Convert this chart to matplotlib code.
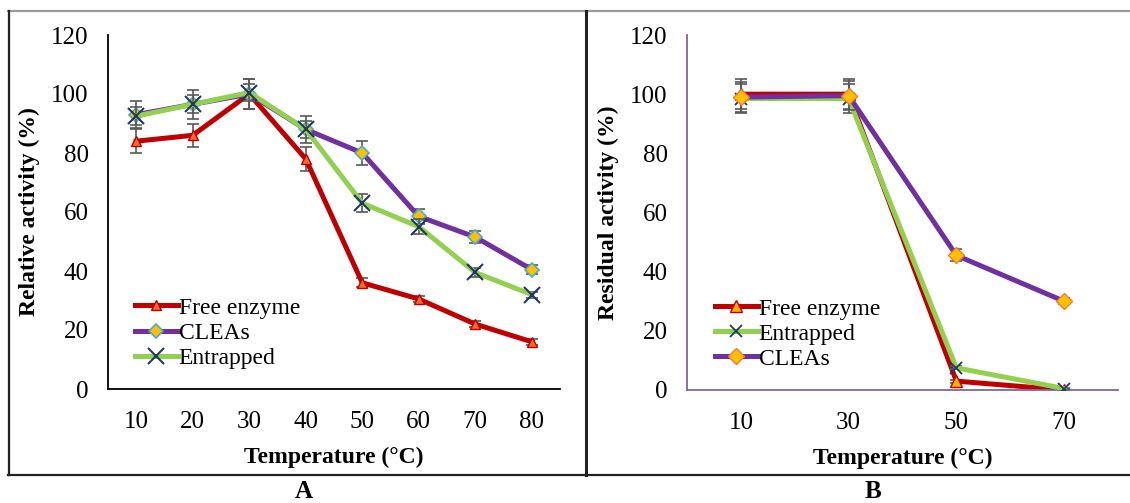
import numpy as np
import matplotlib
matplotlib.use("Agg")
import matplotlib.pyplot as plt
from matplotlib.lines import Line2D

plt.rcParams['font.family'] = ['Liberation Serif', 'DejaVu Serif']

# ---- panel A data ----
temps_a = ['10', '20', '30', '40', '50', '60', '70', '80']
free_a = [84, 86, 100, 78, 36, 30.5, 22, 16]
free_a_err = [4, 4, 5, 4, 1.5, 1, 1, 1]
cleas_a = [93, 96.5, 100, 88, 80, 58.5, 51.5, 40.5]
cleas_a_err = [4.5, 5, 5, 4.5, 4, 2.5, 2, 1.5]
entr_a = [92.5, 96.5, 100.5, 88, 63, 55, 39.5, 32]
entr_a_err = [3, 3, 3, 3, 3, 2.5, 1.5, 1]

# ---- panel B data ----
temps_b = ['10', '30', '50', '70']
free_b = [100, 100, 3, 0]
free_b_err = [5, 5, 0.5, 0.3]
entr_b = [98.5, 98.5, 7.5, 0.5]
entr_b_err = [5, 5, 0.5, 0.3]
cleas_b = [99, 99.5, 45.5, 30]
cleas_b_err = [5, 5, 2, 1]

RED = '#C00000'
PURPLE = '#7030A0'
GREEN = '#92D050'
NAVY = '#1F3864'
ERR = '#595959'

W, H = 1130, 503
fig = plt.figure(figsize=(W / 100, H / 100), dpi=100)


def px_axes(x0, x1, ytop, ybot):
    return fig.add_axes([x0 / W, (H - ybot) / H, (x1 - x0) / W, (ybot - ytop) / H])


def series(ax, x, y, err, color, marker, mfc, mec, ms, mew, z, label):
    ax.errorbar(x, y, yerr=err, fmt='none', ecolor=ERR, elinewidth=1.2,
                capsize=4, capthick=1.2, zorder=z)
    ax.plot(x, y, color=color, lw=3.6, marker=marker, markersize=ms,
            markerfacecolor=mfc, markeredgecolor=mec, markeredgewidth=mew,
            zorder=z + 0.5, label=label)


def style(ax, n, labels, spine_color, ylabel):
    ax.set_xlim(-0.5, n - 0.5)
    ax.set_ylim(0, 120)
    ax.set_xticks(np.arange(n))
    ax.set_xticklabels(labels)
    ax.set_yticks(np.arange(0, 121, 20))
    ax.tick_params(length=0, labelsize=18)
    ax.tick_params(axis='y', pad=14)
    ax.tick_params(axis='x', pad=16)
    for s in ('top', 'right'):
        ax.spines[s].set_visible(False)
    for s in ('left', 'bottom'):
        ax.spines[s].set_color(spine_color)
        ax.spines[s].set_linewidth(1.3)
    ax.set_ylabel(ylabel, fontsize=17, fontweight='bold', labelpad=8)
    ax.set_xlabel('Temperature (°C)', fontsize=17, fontweight='bold', labelpad=10)


def legend(ax, xa):
    ax.legend(loc='center left', bbox_to_anchor=(xa, 0.158), frameon=False,
              fontsize=17, borderaxespad=0, borderpad=0, handlelength=1.8,
              handletextpad=0.05, labelspacing=0.15)


# panel A
axA = px_axes(108, 560, 35, 389)
xa = np.arange(len(temps_a))
series(axA, xa, free_a, free_a_err, RED, '^', '#F26B2A', RED, 7, 1, 2, 'Free enzyme')
series(axA, xa, cleas_a, cleas_a_err, PURPLE, 'D', '#FFC000', '#4BACC6', 7, 1.2, 3, 'CLEAs')
series(axA, xa, entr_a, entr_a_err, GREEN, 'x', NAVY, NAVY, 11, 1.5, 4, 'Entrapped')
style(axA, len(temps_a), temps_a, 'black', 'Relative activity (%)')
legend(axA, 0.06)

# panel B
axB = px_axes(687, 1118, 35, 390)
xb = np.arange(len(temps_b))
series(axB, xb, free_b, free_b_err, RED, '^', '#FFB000', RED, 9, 1, 2, 'Free enzyme')
series(axB, xb, entr_b, entr_b_err, GREEN, 'x', NAVY, NAVY, 9, 1.3, 3, 'Entrapped')
series(axB, xb, cleas_b, cleas_b_err, PURPLE, 'D', '#FFC000', '#ED7D31', 8, 1, 4, 'CLEAs')
style(axB, len(temps_b), temps_b, '#8064A2', 'Residual activity (%)')
legend(axB, 0.065)


# panel frame lines
def fline(x0, y0, x1, y1, color, lw):
    fig.add_artist(Line2D([x0 / W, x1 / W], [(H - y0) / H, (H - y1) / H],
                          color=color, lw=lw, transform=fig.transFigure))


fline(8, 11, W, 11, '#9A9A9A', 1.6)
fline(9, 11, 9, 475, '#222222', 1.6)
fline(586, 11, 586, 475, '#222222', 2.2)
fline(8, 475, W, 475, '#222222', 1.6)

fig.text(304 / W, (H - 492) / H, 'A', fontsize=18, fontweight='bold',
         ha='center', va='center')
fig.text(873 / W, (H - 492) / H, 'B', fontsize=18, fontweight='bold',
         ha='center', va='center')

fig.savefig('out.png', dpi=100)
